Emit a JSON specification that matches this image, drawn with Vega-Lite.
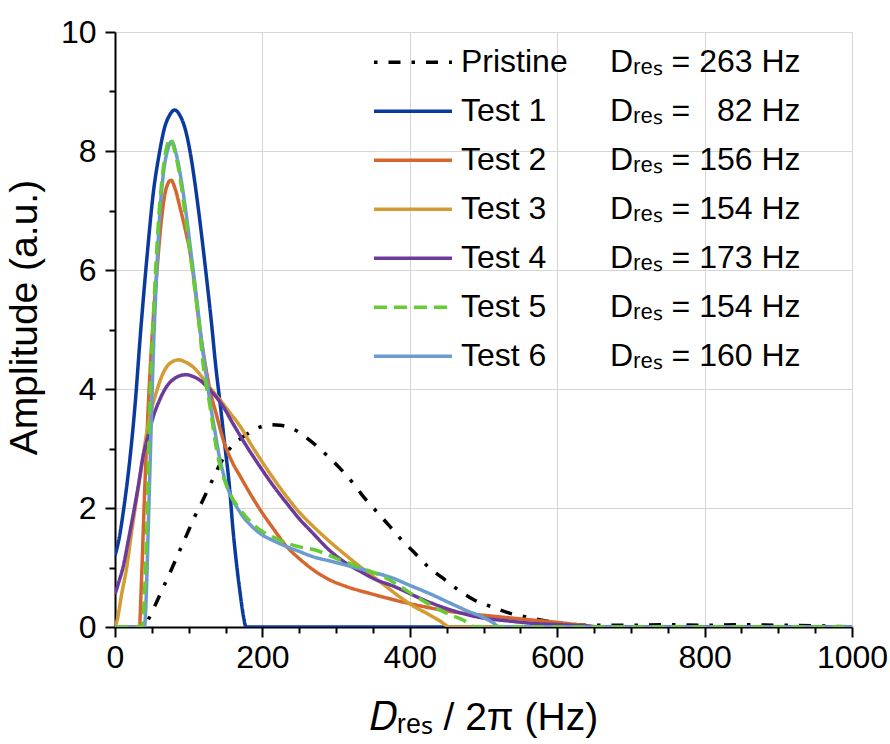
{
  "$schema": "https://vega.github.io/schema/vega-lite/v6.json",
  "width": 737,
  "height": 595,
  "autosize": {"type": "none"},
  "padding": {"left": 115, "top": 32, "right": 38, "bottom": 117},
  "background": "white",
  "config": {
    "view": {"stroke": null},
    "font": "Liberation Sans",
    "axis": {"labelFont": "Liberation Sans", "titleFont": "Liberation Sans", "labelColor": "black", "titleColor": "black", "titleFontWeight": "normal", "domainColor": "black", "domainWidth": 2, "tickColor": "black", "tickWidth": 2, "gridColor": "#d6d6d6", "gridWidth": 1, "labelFlush": false, "labelOverlap": false}
  },
  "datasets": {
    "info": [
      {"s": "Pristine", "d": "Dᵣₑₛ = 263 Hz"},
      {"s": "Test 1", "d": "Dᵣₑₛ = \u200782 Hz"},
      {"s": "Test 2", "d": "Dᵣₑₛ = 156 Hz"},
      {"s": "Test 3", "d": "Dᵣₑₛ = 154 Hz"},
      {"s": "Test 4", "d": "Dᵣₑₛ = 173 Hz"},
      {"s": "Test 5", "d": "Dᵣₑₛ = 154 Hz "},
      {"s": "Test 6", "d": "Dᵣₑₛ = 160 Hz"}
    ]
  },
  "data": {"values": [
    {"s":"Pristine","x":0,"y":0},{"s":"Pristine","x":38,"y":0},{"s":"Pristine","x":45,"y":0.12},{"s":"Pristine","x":55,"y":0.38},{"s":"Pristine","x":66,"y":0.68},{"s":"Pristine","x":77,"y":0.98},{"s":"Pristine","x":88,"y":1.29},{"s":"Pristine","x":98,"y":1.57},{"s":"Pristine","x":108,"y":1.85},{"s":"Pristine","x":120,"y":2.15},{"s":"Pristine","x":131,"y":2.44},{"s":"Pristine","x":141,"y":2.7},{"s":"Pristine","x":151,"y":2.92},{"s":"Pristine","x":162,"y":3.08},{"s":"Pristine","x":174,"y":3.2},{"s":"Pristine","x":187,"y":3.3},{"s":"Pristine","x":199,"y":3.37},{"s":"Pristine","x":212,"y":3.4},{"s":"Pristine","x":224,"y":3.39},{"s":"Pristine","x":237,"y":3.35},{"s":"Pristine","x":249,"y":3.28},{"s":"Pristine","x":259,"y":3.19},{"s":"Pristine","x":269,"y":3.09},{"s":"Pristine","x":287,"y":2.89},{"s":"Pristine","x":305,"y":2.67},{"s":"Pristine","x":323,"y":2.42},{"s":"Pristine","x":339,"y":2.16},{"s":"Pristine","x":355,"y":1.94},{"s":"Pristine","x":373,"y":1.69},{"s":"Pristine","x":389,"y":1.46},{"s":"Pristine","x":407,"y":1.24},{"s":"Pristine","x":425,"y":1.01},{"s":"Pristine","x":445,"y":0.82},{"s":"Pristine","x":466,"y":0.62},{"s":"Pristine","x":488,"y":0.45},{"s":"Pristine","x":511,"y":0.34},{"s":"Pristine","x":536,"y":0.23},{"s":"Pristine","x":561,"y":0.16},{"s":"Pristine","x":590,"y":0.09},{"s":"Pristine","x":615,"y":0.05},{"s":"Pristine","x":640,"y":0.03},{"s":"Pristine","x":700,"y":0.03},{"s":"Pristine","x":750,"y":0.04},{"s":"Pristine","x":800,"y":0.03},{"s":"Pristine","x":850,"y":0.04},{"s":"Pristine","x":900,"y":0.03},{"s":"Pristine","x":950,"y":0.02},{"s":"Pristine","x":1000,"y":0},
    {"s":"Test 1","x":0,"y":1.2},{"s":"Test 1","x":5,"y":1.45},{"s":"Test 1","x":12,"y":2.0},{"s":"Test 1","x":20,"y":2.8},{"s":"Test 1","x":27,"y":3.7},{"s":"Test 1","x":35,"y":5.0},{"s":"Test 1","x":44,"y":6.3},{"s":"Test 1","x":52,"y":7.3},{"s":"Test 1","x":60,"y":7.95},{"s":"Test 1","x":67,"y":8.38},{"s":"Test 1","x":74,"y":8.6},{"s":"Test 1","x":81,"y":8.69},{"s":"Test 1","x":88,"y":8.6},{"s":"Test 1","x":95,"y":8.38},{"s":"Test 1","x":102,"y":7.98},{"s":"Test 1","x":108,"y":7.5},{"s":"Test 1","x":115,"y":6.84},{"s":"Test 1","x":123,"y":6.0},{"s":"Test 1","x":131,"y":5.1},{"s":"Test 1","x":137,"y":4.35},{"s":"Test 1","x":143,"y":3.72},{"s":"Test 1","x":149,"y":3.05},{"s":"Test 1","x":155,"y":2.4},{"s":"Test 1","x":160,"y":1.65},{"s":"Test 1","x":165,"y":1.05},{"s":"Test 1","x":170,"y":0.55},{"s":"Test 1","x":174,"y":0.2},{"s":"Test 1","x":178,"y":0},{"s":"Test 1","x":400,"y":0},{"s":"Test 1","x":1000,"y":0},
    {"s":"Test 2","x":0,"y":0},{"s":"Test 2","x":33,"y":0},{"s":"Test 2","x":36,"y":0.8},{"s":"Test 2","x":40,"y":2.2},{"s":"Test 2","x":44,"y":3.4},{"s":"Test 2","x":48,"y":4.4},{"s":"Test 2","x":52,"y":5.2},{"s":"Test 2","x":57,"y":6.0},{"s":"Test 2","x":63,"y":6.84},{"s":"Test 2","x":69,"y":7.35},{"s":"Test 2","x":76,"y":7.51},{"s":"Test 2","x":82,"y":7.35},{"s":"Test 2","x":88,"y":7.06},{"s":"Test 2","x":95,"y":6.7},{"s":"Test 2","x":102,"y":6.28},{"s":"Test 2","x":108,"y":5.75},{"s":"Test 2","x":113,"y":5.21},{"s":"Test 2","x":120,"y":4.6},{"s":"Test 2","x":129,"y":3.98},{"s":"Test 2","x":138,"y":3.55},{"s":"Test 2","x":147,"y":3.14},{"s":"Test 2","x":158,"y":2.8},{"s":"Test 2","x":170,"y":2.53},{"s":"Test 2","x":183,"y":2.25},{"s":"Test 2","x":197,"y":1.97},{"s":"Test 2","x":215,"y":1.65},{"s":"Test 2","x":233,"y":1.35},{"s":"Test 2","x":250,"y":1.15},{"s":"Test 2","x":269,"y":0.96},{"s":"Test 2","x":290,"y":0.8},{"s":"Test 2","x":314,"y":0.68},{"s":"Test 2","x":350,"y":0.55},{"s":"Test 2","x":387,"y":0.43},{"s":"Test 2","x":420,"y":0.34},{"s":"Test 2","x":455,"y":0.26},{"s":"Test 2","x":490,"y":0.21},{"s":"Test 2","x":522,"y":0.17},{"s":"Test 2","x":555,"y":0.13},{"s":"Test 2","x":590,"y":0.09},{"s":"Test 2","x":635,"y":0.03},{"s":"Test 2","x":660,"y":0},{"s":"Test 2","x":1000,"y":0},
    {"s":"Test 3","x":0,"y":0},{"s":"Test 3","x":3,"y":0.12},{"s":"Test 3","x":9,"y":0.55},{"s":"Test 3","x":16,"y":1.01},{"s":"Test 3","x":22,"y":1.55},{"s":"Test 3","x":29,"y":2.13},{"s":"Test 3","x":36,"y":2.7},{"s":"Test 3","x":43,"y":3.26},{"s":"Test 3","x":50,"y":3.68},{"s":"Test 3","x":57,"y":3.98},{"s":"Test 3","x":63,"y":4.2},{"s":"Test 3","x":70,"y":4.37},{"s":"Test 3","x":78,"y":4.46},{"s":"Test 3","x":86,"y":4.49},{"s":"Test 3","x":96,"y":4.45},{"s":"Test 3","x":106,"y":4.37},{"s":"Test 3","x":115,"y":4.25},{"s":"Test 3","x":124,"y":4.1},{"s":"Test 3","x":133,"y":3.96},{"s":"Test 3","x":143,"y":3.81},{"s":"Test 3","x":156,"y":3.6},{"s":"Test 3","x":170,"y":3.37},{"s":"Test 3","x":185,"y":3.06},{"s":"Test 3","x":201,"y":2.75},{"s":"Test 3","x":217,"y":2.46},{"s":"Test 3","x":233,"y":2.19},{"s":"Test 3","x":250,"y":1.93},{"s":"Test 3","x":269,"y":1.69},{"s":"Test 3","x":290,"y":1.45},{"s":"Test 3","x":310,"y":1.24},{"s":"Test 3","x":330,"y":1.04},{"s":"Test 3","x":350,"y":0.85},{"s":"Test 3","x":368,"y":0.68},{"s":"Test 3","x":387,"y":0.5},{"s":"Test 3","x":405,"y":0.35},{"s":"Test 3","x":423,"y":0.23},{"s":"Test 3","x":440,"y":0.11},{"s":"Test 3","x":455,"y":0},{"s":"Test 3","x":1000,"y":0},
    {"s":"Test 4","x":0,"y":0.55},{"s":"Test 4","x":5,"y":0.75},{"s":"Test 4","x":11,"y":1.01},{"s":"Test 4","x":18,"y":1.45},{"s":"Test 4","x":25,"y":1.91},{"s":"Test 4","x":32,"y":2.4},{"s":"Test 4","x":38,"y":2.86},{"s":"Test 4","x":45,"y":3.22},{"s":"Test 4","x":52,"y":3.54},{"s":"Test 4","x":60,"y":3.8},{"s":"Test 4","x":70,"y":4.04},{"s":"Test 4","x":80,"y":4.17},{"s":"Test 4","x":90,"y":4.23},{"s":"Test 4","x":97,"y":4.24},{"s":"Test 4","x":106,"y":4.21},{"s":"Test 4","x":115,"y":4.15},{"s":"Test 4","x":124,"y":4.05},{"s":"Test 4","x":133,"y":3.93},{"s":"Test 4","x":147,"y":3.7},{"s":"Test 4","x":160,"y":3.42},{"s":"Test 4","x":178,"y":3.05},{"s":"Test 4","x":197,"y":2.69},{"s":"Test 4","x":215,"y":2.37},{"s":"Test 4","x":233,"y":2.08},{"s":"Test 4","x":250,"y":1.82},{"s":"Test 4","x":269,"y":1.57},{"s":"Test 4","x":290,"y":1.3},{"s":"Test 4","x":314,"y":1.07},{"s":"Test 4","x":335,"y":0.92},{"s":"Test 4","x":355,"y":0.79},{"s":"Test 4","x":375,"y":0.7},{"s":"Test 4","x":390,"y":0.62},{"s":"Test 4","x":409,"y":0.51},{"s":"Test 4","x":430,"y":0.4},{"s":"Test 4","x":455,"y":0.29},{"s":"Test 4","x":480,"y":0.2},{"s":"Test 4","x":500,"y":0.15},{"s":"Test 4","x":535,"y":0.1},{"s":"Test 4","x":568,"y":0.06},{"s":"Test 4","x":600,"y":0.04},{"s":"Test 4","x":635,"y":0.02},{"s":"Test 4","x":660,"y":0},{"s":"Test 4","x":1000,"y":0},
    {"s":"Test 6","x":0,"y":0},{"s":"Test 6","x":40,"y":0},{"s":"Test 6","x":42,"y":0.4},{"s":"Test 6","x":45,"y":1.6},{"s":"Test 6","x":48,"y":2.9},{"s":"Test 6","x":52,"y":4.6},{"s":"Test 6","x":56,"y":5.8},{"s":"Test 6","x":60,"y":6.8},{"s":"Test 6","x":65,"y":7.55},{"s":"Test 6","x":71,"y":8.0},{"s":"Test 6","x":77,"y":8.16},{"s":"Test 6","x":83,"y":7.95},{"s":"Test 6","x":90,"y":7.5},{"s":"Test 6","x":97,"y":6.9},{"s":"Test 6","x":104,"y":6.2},{"s":"Test 6","x":111,"y":5.5},{"s":"Test 6","x":117,"y":4.85},{"s":"Test 6","x":124,"y":4.2},{"s":"Test 6","x":130,"y":3.7},{"s":"Test 6","x":136,"y":3.26},{"s":"Test 6","x":141,"y":2.9},{"s":"Test 6","x":147,"y":2.58},{"s":"Test 6","x":153,"y":2.33},{"s":"Test 6","x":160,"y":2.13},{"s":"Test 6","x":167,"y":1.98},{"s":"Test 6","x":174,"y":1.85},{"s":"Test 6","x":185,"y":1.7},{"s":"Test 6","x":197,"y":1.57},{"s":"Test 6","x":215,"y":1.45},{"s":"Test 6","x":233,"y":1.35},{"s":"Test 6","x":250,"y":1.27},{"s":"Test 6","x":269,"y":1.18},{"s":"Test 6","x":295,"y":1.1},{"s":"Test 6","x":323,"y":1.01},{"s":"Test 6","x":350,"y":0.92},{"s":"Test 6","x":375,"y":0.83},{"s":"Test 6","x":400,"y":0.7},{"s":"Test 6","x":427,"y":0.56},{"s":"Test 6","x":455,"y":0.4},{"s":"Test 6","x":478,"y":0.27},{"s":"Test 6","x":500,"y":0.16},{"s":"Test 6","x":512,"y":0.08},{"s":"Test 6","x":522,"y":0},{"s":"Test 6","x":1000,"y":0},
    {"s":"Test 5","x":0,"y":0},{"s":"Test 5","x":37,"y":0},{"s":"Test 5","x":39,"y":0.3},{"s":"Test 5","x":43,"y":1.57},{"s":"Test 5","x":47,"y":3.6},{"s":"Test 5","x":52,"y":5.21},{"s":"Test 5","x":56,"y":6.2},{"s":"Test 5","x":60,"y":7.0},{"s":"Test 5","x":64,"y":7.55},{"s":"Test 5","x":69,"y":8.0},{"s":"Test 5","x":75,"y":8.21},{"s":"Test 5","x":81,"y":8.0},{"s":"Test 5","x":88,"y":7.57},{"s":"Test 5","x":95,"y":6.95},{"s":"Test 5","x":102,"y":6.28},{"s":"Test 5","x":108,"y":5.7},{"s":"Test 5","x":113,"y":5.21},{"s":"Test 5","x":120,"y":4.37},{"s":"Test 5","x":129,"y":3.7},{"s":"Test 5","x":138,"y":2.97},{"s":"Test 5","x":145,"y":2.6},{"s":"Test 5","x":152,"y":2.36},{"s":"Test 5","x":160,"y":2.15},{"s":"Test 5","x":170,"y":1.97},{"s":"Test 5","x":183,"y":1.78},{"s":"Test 5","x":197,"y":1.63},{"s":"Test 5","x":215,"y":1.51},{"s":"Test 5","x":233,"y":1.41},{"s":"Test 5","x":253,"y":1.34},{"s":"Test 5","x":273,"y":1.29},{"s":"Test 5","x":290,"y":1.21},{"s":"Test 5","x":305,"y":1.13},{"s":"Test 5","x":320,"y":1.06},{"s":"Test 5","x":341,"y":0.96},{"s":"Test 5","x":365,"y":0.84},{"s":"Test 5","x":387,"y":0.68},{"s":"Test 5","x":410,"y":0.5},{"s":"Test 5","x":432,"y":0.34},{"s":"Test 5","x":452,"y":0.22},{"s":"Test 5","x":472,"y":0.12},{"s":"Test 5","x":490,"y":0},{"s":"Test 5","x":1000,"y":0}
  ]},
  "transform": [
    {"lookup": "s", "from": {"data": {"name": "info"}, "key": "s", "fields": ["d"]}}
  ],
  "mark": {"type": "line", "interpolate": "monotone", "strokeCap": "butt", "clip": true},
  "encoding": {
    "x": {
      "field": "x", "type": "quantitative",
      "scale": {"domain": [0, 1000], "nice": false, "zero": false},
      "axis": {
        "title": "𝐷ᵣₑₛ / 2π (Hz)",
        "titleFontSize": 39,
        "titlePadding": 25,
        "values": [0,50,100,150,200,250,300,350,400,450,500,550,600,650,700,750,800,850,900,950,1000],
        "format": "d",
        "labelExpr": "datum.value % 200 === 0 ? datum.label : ''",
        "labelFontSize": 32,
        "labelPadding": 5,
        "tickSize": {"condition": {"test": "datum.value % 200 === 0", "value": 10}, "value": 6},
        "grid": true,
        "gridOpacity": {"condition": {"test": "datum.value % 200 === 0 && datum.value > 0", "value": 1}, "value": 0}
      }
    },
    "y": {
      "field": "y", "type": "quantitative",
      "scale": {"domain": [0, 10], "nice": false},
      "axis": {
        "title": "Amplitude (a.u.)",
        "titleFontSize": 39,
        "titlePadding": 16,
        "titleY": 285,
        "values": [0,1,2,3,4,5,6,7,8,9,10],
        "format": "d",
        "labelExpr": "datum.value % 2 === 0 ? datum.label : ''",
        "labelFontSize": 32,
        "labelPadding": 9,
        "tickSize": {"condition": {"test": "datum.value % 2 === 0", "value": 10}, "value": 6},
        "grid": true,
        "gridOpacity": {"condition": {"test": "datum.value % 2 === 0 && datum.value > 0", "value": 1}, "value": 0}
      }
    },
    "color": {
      "field": "s", "type": "nominal",
      "scale": {
        "domain": ["Pristine", "Test 1", "Test 2", "Test 3", "Test 4", "Test 5", "Test 6"],
        "range": ["#000000", "#0A3A9E", "#D5672E", "#D39C33", "#6B3A9B", "#66CC33", "#6B9BD0"]
      },
      "legend": {
        "title": null, "orient": "none", "legendX": 257, "legendY": 6,
        "symbolType": "stroke", "symbolSize": 6084, "symbolStrokeWidth": 3.5,
        "labelFontSize": 32, "labelFont": "Liberation Sans", "labelColor": "black", "labelOffset": 7,
        "clipHeight": 48.6, "rowPadding": 0, "padding": 0, "labelLimit": 300
      }
    },
    "strokeDash": {
      "field": "s", "type": "nominal",
      "scale": {
        "domain": ["Pristine", "Test 1", "Test 2", "Test 3", "Test 4", "Test 5", "Test 6"],
        "range": [[3.5, 11, 12, 11], [1, 0], [1, 0], [1, 0], [1, 0], [13, 7], [1, 0]]
      },
      "legend": {
        "title": null, "orient": "none", "legendX": 257, "legendY": 6,
        "symbolType": "stroke", "symbolSize": 6084, "symbolStrokeWidth": 3.5,
        "labelFontSize": 32, "labelFont": "Liberation Sans", "labelColor": "black", "labelOffset": 7,
        "clipHeight": 48.6, "rowPadding": 0, "padding": 0, "labelLimit": 300
      }
    },
    "strokeWidth": {
      "field": "d", "type": "nominal",
      "scale": {
        "domain": ["Dᵣₑₛ = 263 Hz", "Dᵣₑₛ = \u200782 Hz", "Dᵣₑₛ = 156 Hz", "Dᵣₑₛ = 154 Hz", "Dᵣₑₛ = 173 Hz", "Dᵣₑₛ = 154 Hz ", "Dᵣₑₛ = 160 Hz"],
        "range": [3.5, 3.5]
      },
      "legend": {
        "title": null, "orient": "none", "legendX": 463, "legendY": 6,
        "symbolOpacity": 0, "symbolSize": 1, "symbolStrokeWidth": 0,
        "labelFontSize": 32, "labelFont": "Liberation Sans", "labelColor": "black", "labelOffset": 0,
        "clipHeight": 48.6, "rowPadding": 0, "padding": 0, "labelLimit": 300
      }
    }
  }
}
